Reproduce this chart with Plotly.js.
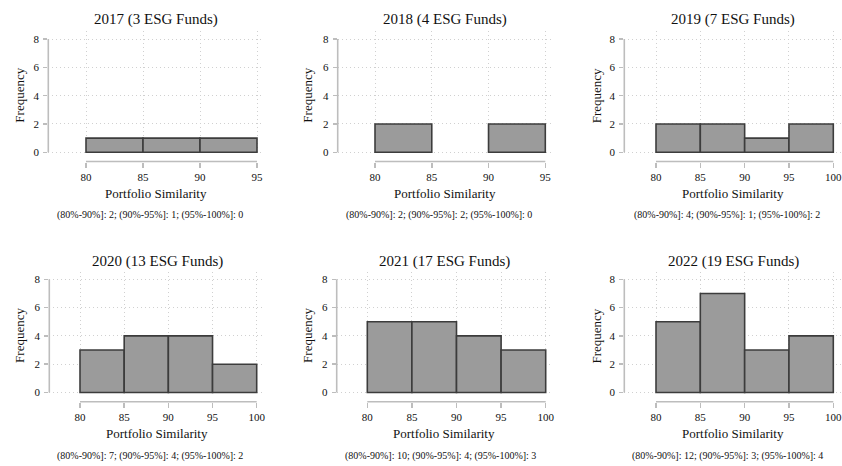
<!DOCTYPE html>
<html>
<head>
<meta charset="utf-8">
<script src="https://cdn.plot.ly/plotly-3.0.1.min.js"></script>
<style>html,body{margin:0;padding:0;background:#fff;}#chart{width:842px;height:466px;}</style>
</head>
<body>
<div id="chart"></div>
<script>
// ---- data ----
const years = [2017, 2018, 2019, 2020, 2021, 2022];
const fundCounts = [3, 4, 7, 13, 17, 19];
const binStarts = [80, 85, 90, 95];
const binWidth = 5;
const counts2017 = [1, 1, 1];
const counts2018 = [2, 0, 2];
const counts2019 = [2, 2, 1, 2];
const counts2020 = [3, 4, 4, 2];
const counts2021 = [5, 5, 4, 3];
const counts2022 = [5, 7, 3, 4];
const allCounts = [counts2017, counts2018, counts2019, counts2020, counts2021, counts2022];
const yTicks = [0, 2, 4, 6, 8];
const noteLabels = ['(80%-90%]', '(90%-95%]', '(95%-100%]'];
const note2017 = [2, 1, 0];
const note2018 = [2, 2, 0];
const note2019 = [4, 1, 2];
const note2020 = [7, 4, 2];
const note2021 = [10, 4, 3];
const note2022 = [12, 3, 4];
const allNotes = [note2017, note2018, note2019, note2020, note2021, note2022];

// ---- layout geometry (pixels) ----
const W = 842, H = 466;
const cols = [
  [{left: 48.3, right: 263, x80: 86, xMaxPx: 257, noteX: 150, yTitleX: 20},
   {left: 337.7, right: 552, x80: 375, xMaxPx: 545.3, noteX: 439, yTitleX: 308},
   {left: 624.3, right: 842, x80: 656, xMaxPx: 833.3, noteX: 727, yTitleX: 596.7}],
  [{left: 49.3, right: 265, x80: 80, xMaxPx: 256.7, noteX: 150, yTitleX: 20},
   {left: 336.7, right: 552, x80: 367.3, xMaxPx: 545.7, noteX: 440.5, yTitleX: 308},
   {left: 624.3, right: 842, x80: 656, xMaxPx: 833.3, noteX: 727.5, yTitleX: 596.7}]
];
const rows = [
  {y8: 39, y0: 152.3, top: 31, bottom: 154, axisY: 161.5, titleY: 20, xTitleY: 193.3, noteY: 215},
  {y8: 279.3, y0: 392.5, top: 272, bottom: 394, axisY: 401.7, titleY: 261.7, xTitleY: 433.3, noteY: 456}
];

const serifFont = 'Liberation Serif';
const axisColor = '#bdbdbd';
const textColor = '#111111';

const traces = [];
const layout = {
  width: W, height: H,
  margin: {l: 0, r: 0, t: 0, b: 0},
  paper_bgcolor: '#ffffff', plot_bgcolor: '#ffffff',
  showlegend: false,
  font: {family: serifFont, color: textColor},
  shapes: [], annotations: []
};

years.forEach((yr, i) => {
  const r = Math.floor(i / 3), c = i % 3;
  const g = cols[r][c], rw = rows[r];
  const counts = allCounts[i];
  const starts = binStarts.slice(0, counts.length);
  const xMax = starts[starts.length - 1] + binWidth;
  const xTicks = [];
  for (let k = 0; k <= counts.length; k++) xTicks.push(binStarts[0] + k * binWidth);
  const ppu = (g.xMaxPx - g.x80) / (xMax - xTicks[0]);
  const xr = [xTicks[0] - (g.x80 - g.left) / ppu, xMax + (g.right - g.xMaxPx) / ppu];
  const yMax = yTicks[yTicks.length - 1];
  const ppuY = (rw.y0 - rw.y8) / yMax;
  const yr0 = [0 - (rw.bottom - rw.y0) / ppuY, yMax + (rw.y8 - rw.top) / ppuY];
  const n = i + 1;
  const xa = 'xaxis' + (n === 1 ? '' : n), ya = 'yaxis' + (n === 1 ? '' : n);
  const xid = 'x' + (n === 1 ? '' : n), yid = 'y' + (n === 1 ? '' : n);

  traces.push({
    type: 'bar', x: starts.map(s => s + binWidth / 2),
    y: counts.map(v => (v === 0 ? null : v)), width: binWidth,
    xaxis: xid, yaxis: yid,
    marker: {color: '#9b9b9b', line: {color: '#3c3c3c', width: 1.6}},
    hoverinfo: 'x+y'
  });

  layout[xa] = {
    domain: [g.left / W, g.right / W], range: xr, anchor: 'free', position: 1 - rw.axisY / H,
    tickvals: xTicks, ticktext: xTicks.map(String), ticks: 'outside', ticklen: 5,
    tickcolor: axisColor, tickwidth: 1.5, showline: false, zeroline: false,
    showgrid: true, gridcolor: '#d0d0d0', gridwidth: 1, griddash: '1px,3px',
    ticklabeloverflow: 'allow',
    tickfont: {family: serifFont, size: 11, color: textColor}, fixedrange: true
  };
  layout[ya] = {
    domain: [1 - rw.bottom / H, 1 - rw.top / H], range: yr0, anchor: xid,
    tickvals: yTicks, ticktext: yTicks.map(String), ticks: 'outside', ticklen: 4,
    tickcolor: axisColor, tickwidth: 1.5, showline: false, zeroline: false,
    showgrid: true, gridcolor: '#d0d0d0', gridwidth: 1, griddash: '1px,3px',
    ticklabelstandoff: 2, ticklabeloverflow: 'allow',
    tickfont: {family: serifFont, size: 11, color: textColor}, fixedrange: true
  };

  // axis lines spanning only the labelled range
  layout.shapes.push({type: 'line', xref: xid + ' domain', yref: yid, x0: 0, x1: 0,
    y0: yTicks[0], y1: yMax, line: {color: axisColor, width: 1.6}, layer: 'above'});
  layout.shapes.push({type: 'line', xref: xid, yref: 'paper', x0: xTicks[0], x1: xMax,
    y0: 1 - rw.axisY / H, y1: 1 - rw.axisY / H, line: {color: axisColor, width: 1.6}});

  const cx = (g.left + g.right) / 2 / W;
  layout.annotations.push({text: yr + ' (' + fundCounts[i] + ' ESG Funds)', xref: 'paper', yref: 'paper',
    x: cx, y: 1 - rw.titleY / H, xanchor: 'center', yanchor: 'middle', showarrow: false,
    font: {family: serifFont, size: 15, color: textColor}});
  layout.annotations.push({text: 'Portfolio Similarity', xref: 'paper', yref: 'paper',
    x: cx, y: 1 - rw.xTitleY / H, xanchor: 'center', yanchor: 'middle', showarrow: false,
    font: {family: serifFont, size: 13, color: textColor}});
  layout.annotations.push({text: 'Frequency', xref: 'paper', yref: 'paper', textangle: -90,
    x: g.yTitleX / W, y: 1 - ((rw.y8 + rw.y0) / 2) / H, xanchor: 'center', yanchor: 'middle', showarrow: false,
    font: {family: serifFont, size: 13, color: textColor}});
  const note = noteLabels.map((lab, k) => lab + ': ' + allNotes[i][k]).join('; ');
  layout.annotations.push({text: note, xref: 'paper', yref: 'paper',
    x: g.noteX / W, y: 1 - rw.noteY / H, xanchor: 'center', yanchor: 'middle', showarrow: false,
    font: {family: serifFont, size: 10, color: textColor}});
});

Plotly.newPlot('chart', traces, layout, {displayModeBar: false, staticPlot: true});
</script>
</body>
</html>
